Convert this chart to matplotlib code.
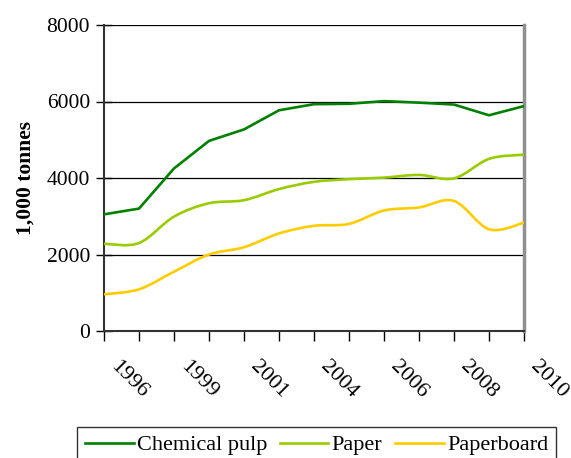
import numpy as np
import matplotlib.pyplot as plt
from matplotlib.path import Path
from matplotlib.patches import PathPatch
from matplotlib.lines import Line2D
from matplotlib.transforms import ScaledTranslation

plt.rcParams["font.family"] = ["Liberation Serif", "DejaVu Serif"]

tick_labels = ["1996", "", "1999", "", "2001", "", "2004", "", "2006", "", "2008", "", "2010"]
chemical_pulp = [3050, 3200, 4250, 4970, 5270, 5770, 5930, 5940, 6010, 5970, 5920, 5640, 5880]
paper = [2280, 2300, 2990, 3340, 3420, 3710, 3900, 3970, 4010, 4080, 3990, 4500, 4610]
paperboard = [960, 1090, 1550, 2000, 2190, 2550, 2750, 2800, 3150, 3230, 3400, 2660, 2830]

C_PULP, C_PAPER, C_BOARD = "#008000", "#99cc00", "#ffcc00"


def smooth_path(x, y):
    # bezier segments through every point, like a spreadsheet "smoothed line"
    p = np.column_stack([x, y]).astype(float)
    ext = np.vstack([p[0], p, p[-1]])
    verts = [p[0]]
    codes = [Path.MOVETO]
    for i in range(len(p) - 1):
        p0, p1, p2, p3 = ext[i], ext[i + 1], ext[i + 2], ext[i + 3]
        verts += [p1 + (p2 - p0) / 6, p2 - (p3 - p1) / 6, p2]
        codes += [Path.CURVE4] * 3
    return Path(verts, codes)


fig = plt.figure(figsize=(5.71, 4.58), dpi=100)
ax = fig.add_axes([104 / 571, 1 - 331 / 458, 420 / 571, 306 / 458])

x = np.arange(len(chemical_pulp))
ax.plot(x, chemical_pulp, color=C_PULP, lw=1.9, zorder=3)
for vals, col in [(paper, C_PAPER), (paperboard, C_BOARD)]:
    ax.add_patch(PathPatch(smooth_path(x, vals), fill=False, edgecolor=col, lw=1.9, zorder=3))

ax.set_xlim(0, 12)
ax.set_ylim(0, 8000)
ax.set_yticks([0, 2000, 4000, 6000, 8000])
ax.set_xticks(x)
ax.set_xticklabels(tick_labels, rotation=-45, ha="left", va="top", rotation_mode="anchor")
ax.tick_params(axis="y", direction="inout", length=12, width=1, labelsize=15.5, pad=4)
ax.tick_params(axis="x", direction="out", length=7, width=1, labelsize=16, pad=12)
shift = ScaledTranslation(16 / 100, 0, fig.dpi_scale_trans)
for lbl in ax.get_xticklabels():
    lbl.set_transform(lbl.get_transform() + shift)
ax.grid(axis="y", color="black", lw=0.9)
ax.set_axisbelow(True)

ax.spines["top"].set_visible(False)
ax.spines["left"].set_color("#333333")
ax.spines["left"].set_linewidth(1.5)
ax.spines["bottom"].set_color("#333333")
ax.spines["bottom"].set_linewidth(1.5)
ax.spines["right"].set_color("#909090")
ax.spines["right"].set_linewidth(2.5)

ax.set_ylabel("1,000 tonnes", fontsize=15.5, fontweight="bold", labelpad=8)

handles = [Line2D([], [], color=c, lw=1.9) for c in (C_PULP, C_PAPER, C_BOARD)]
leg = fig.legend(handles, ["Chemical pulp", "Paper", "Paperboard"], ncol=3,
                 loc="upper left", bbox_to_anchor=(77 / 571, 1 - 427 / 458),
                 fontsize=16, frameon=True, fancybox=False,
                 edgecolor="black", handlelength=2.2, handletextpad=0.15,
                 columnspacing=0.55, borderpad=0.35, borderaxespad=0)
leg.get_frame().set_linewidth(1.0)

fig.savefig("out.png", dpi=100, facecolor="white")
